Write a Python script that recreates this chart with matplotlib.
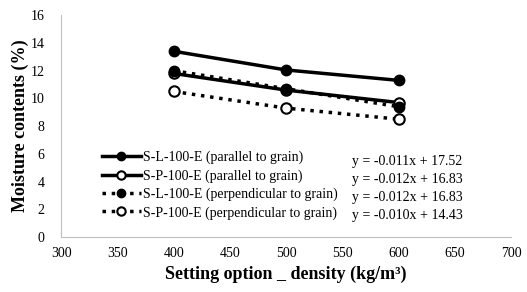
import matplotlib.pyplot as plt

plt.rcParams['font.family'] = ['Liberation Serif', 'DejaVu Serif']

density = [400, 500, 600]
sl_parallel = [13.4, 12.05, 11.3]
sp_parallel = [11.8, 10.6, 9.7]
sl_perp = [12.0, 10.7, 9.4]
sp_perp = [10.5, 9.3, 8.5]

labels = ['S-L-100-E (parallel to grain)',
          'S-P-100-E (parallel to grain)',
          'S-L-100-E (perpendicular to grain)',
          'S-P-100-E (perpendicular to grain)']
equations = ['y = -0.011x + 17.52',
             'y = -0.012x + 16.83',
             'y = -0.012x + 16.83',
             'y = -0.010x + 14.43']

fig = plt.figure(figsize=(5.27, 2.92), dpi=100)
ax = fig.add_axes([0.116, 0.188, 0.854, 0.76])

ax.plot(density, sl_parallel, '-', color='black', lw=2.5, marker='o', ms=7.5,
        mfc='black', mec='black', label=labels[0])
ax.plot(density, sp_parallel, '-', color='black', lw=2.5, marker='o', ms=7.5,
        mfc='white', mec='black', mew=1.5, label=labels[1])
ax.plot(density, sl_perp, ':', color='black', lw=2.5, marker='o', ms=7.5,
        mfc='black', mec='black', label=labels[2])
ax.plot(density, sp_perp, ':', color='black', lw=2.5, marker='o', ms=7.5,
        mfc='white', mec='black', mew=1.5, label=labels[3])

ax.set_xlim(300, 700)
ax.set_ylim(0, 16)
ax.set_xticks(range(300, 701, 50))
ax.set_yticks(range(0, 17, 2))
ax.tick_params(length=0, labelsize=10)
ax.tick_params(axis='y', pad=12)
ax.tick_params(axis='x', pad=7)
for s in ['top', 'right']:
    ax.spines[s].set_visible(False)
for s in ['left', 'bottom']:
    ax.spines[s].set_color('#bfbfbf')

ax.set_xlabel('Setting option _ density (kg/m³)', fontsize=13, fontweight='bold',
              labelpad=4)
ax.set_ylabel('Moisture contents (%)', fontsize=13, fontweight='bold', labelpad=1)

# legende en bas a gauche, equations de tendance a droite
leg = ax.legend(loc='lower left', bbox_to_anchor=(0.075, 0.048), frameon=False,
                fontsize=10, handlelength=2.8, handletextpad=0.2,
                labelspacing=0.36, borderpad=0, markerscale=0.8)

for i, eq in enumerate(equations):
    ax.text(0.647, 0.342 - i * 0.081, eq, transform=ax.transAxes,
            fontsize=10, va='center')

fig.savefig('out.png', dpi=100)
